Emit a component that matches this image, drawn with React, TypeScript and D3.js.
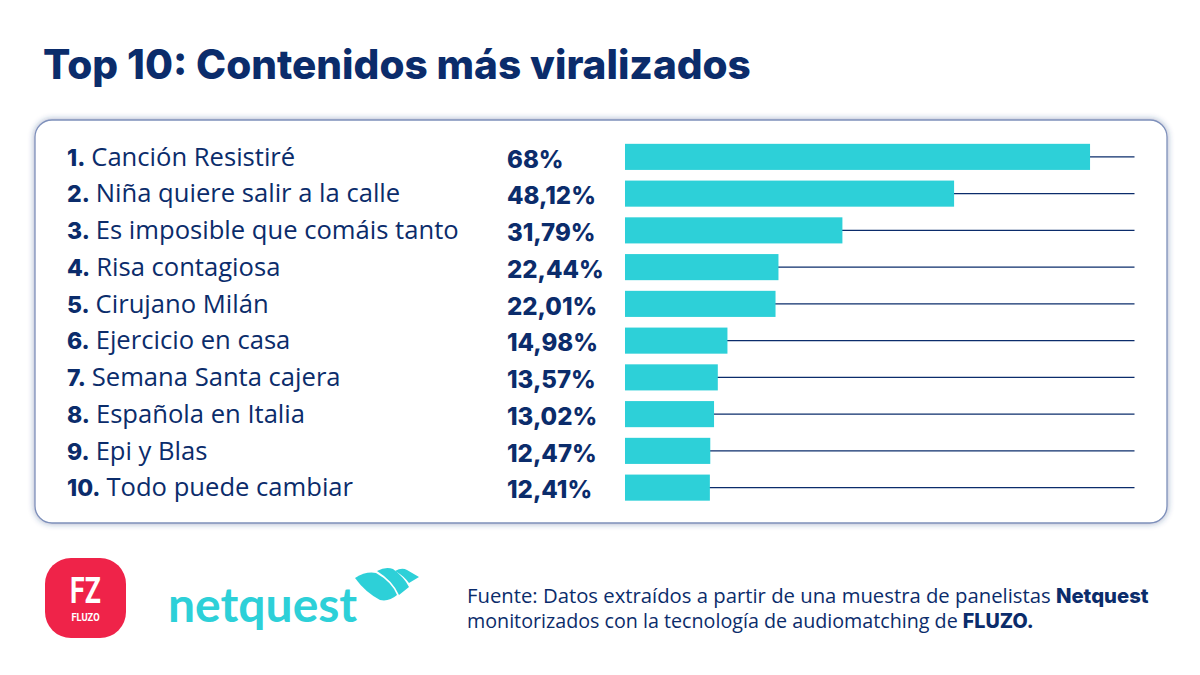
import React from "react";
import * as d3 from "d3";

const names = [
  "Canción Resistiré",
  "Niña quiere salir a la calle",
  "Es imposible que comáis tanto",
  "Risa contagiosa",
  "Cirujano Milán",
  "Ejercicio en casa",
  "Semana Santa cajera",
  "Española en Italia",
  "Epi y Blas",
  "Todo puede cambiar",
];
const values = [68, 48.12, 31.79, 22.44, 22.01, 14.98, 13.57, 13.02, 12.47, 12.41];
const ranks = d3.range(1, 11);
const trackMax = 74.5;

const title = "Top 10: Contenidos más viralizados";
const NAVY = "#0b2c6b";
const TEAL = "#2dd0d8";
const FONT = "'Open Sans', sans-serif";
const HEAVY = "Inter, 'Open Sans', sans-serif";

const fmt = (v: number) => String(v).replace(".", ",") + "%";

export default function App() {
  const x = d3.scaleLinear().domain([0, trackMax]).range([625, 1134.5]);
  const y = d3.scaleBand<number>().domain(ranks).range([138.5, 506]).paddingInner(0.29).paddingOuter(0.145);
  const mid = (r: number) => (y(r) as number) + y.bandwidth() / 2;

  return (
    <svg width={1200} height={675} style={{ position: "absolute", left: 0, top: 0, background: "#fff" }} fontFamily={FONT}>
      <defs>
        <filter id="cardShadow" x="-3%" y="-5%" width="106%" height="110%">
          <feDropShadow dx={0} dy={0} stdDeviation={3} floodColor="#24407f" floodOpacity={0.45} />
        </filter>
      </defs>

      <text x={43} y={79} fontSize={40.5} fontWeight={800} fill={NAVY} fontFamily={HEAVY}>{title}</text>

      <rect x={35} y={120} width={1132} height={403} rx={17} fill="#fff" stroke="#7e90bb" strokeWidth={1.3} filter="url(#cardShadow)" />

      {ranks.map((r, i) => (
        <g key={r}>
          <text x={67} y={mid(r)} dy="0.34em" fontSize={25.6} fill={NAVY}>
            <tspan fontWeight={800} fontFamily={HEAVY} fontSize={23}>{r}.</tspan>
            <tspan dx={6}>{names[i]}</tspan>
          </text>
          <text x={507} y={mid(r)} dy="0.45em" fontSize={24} fontWeight={800} fill={NAVY} fontFamily={HEAVY}>{fmt(values[i])}</text>
          <line x1={x(0)} x2={x(trackMax)} y1={mid(r)} y2={mid(r)} stroke={NAVY} strokeWidth={1.2} />
          <rect x={x(0)} y={y(r)} width={x(values[i]) - x(0)} height={y.bandwidth()} fill={TEAL} />
        </g>
      ))}

      {/* logos */}
      <rect x={45} y={558} width={81} height={80} rx={26} fill="#ef2349" />
      <text transform="translate(85.5 603) scale(0.72 1)" textAnchor="middle" fontSize={37} fontWeight={700} fill="#fff" fontFamily="Roboto, sans-serif">FZ</text>
      <text transform="translate(85.5 621) scale(0.85 1)" textAnchor="middle" fontSize={11} fontWeight={700} fill="#fff" fontFamily="Roboto, sans-serif">FLUZO</text>

      <text x={168} y={622} fontSize={48} fontWeight={700} fill={TEAL} fontFamily="Lato, sans-serif">netquest</text>
      <path d="M355 578 Q366 571 376 573 Q392 582 397 595 Q389 602 380 600 Q365 592 355 578 Z" fill={TEAL} />
      <path d="M377 571 Q386 566 393 569 Q404 577 409 587 L399 595 Q393 581 377 571 Z" fill={TEAL} />
      <path d="M395 571 Q402 567 407 570 L419 577 L409 583 Q404 576 395 571 Z" fill={TEAL} />

      <text x={467} y={603} fontSize={20.3} fill={NAVY}>
        Fuente: Datos extraídos a partir de una muestra de panelistas <tspan fontWeight={800} fontFamily={HEAVY}>Netquest</tspan>
      </text>
      <text x={467} y={628} fontSize={19.7} fill={NAVY}>
        monitorizados con la tecnología de audiomatching de <tspan fontWeight={800} fontFamily={HEAVY}>FLUZO.</tspan>
      </text>
    </svg>
  );
}
